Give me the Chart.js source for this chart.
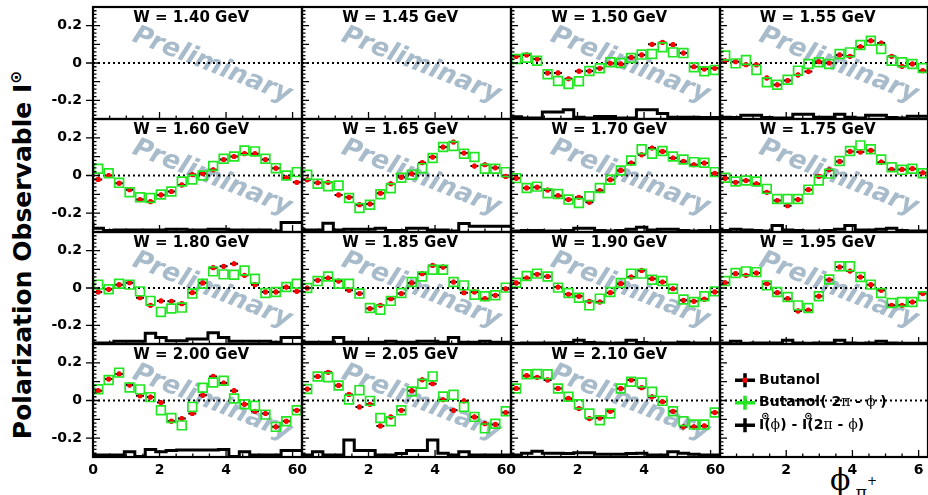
<!DOCTYPE html>
<html>
<head>
<meta charset="utf-8">
<script src="https://cdn.jsdelivr.net/npm/chart.js@4.4.1/dist/chart.umd.min.js"></script>
<style>
  body { margin: 0; background: #fff; overflow: hidden; }
  #wrap { position: relative; width: 928px; height: 495px; overflow: hidden; }
  #wrap canvas { position: absolute; }
  #ytitle {
    position: absolute; left: 22px; top: 255px; white-space: nowrap;
    transform: translate(-50%, -50%) rotate(-90deg);
    font: bold 25px "DejaVu Sans", sans-serif; color: #000;
  }
  #ytitle sup { font-size: 0.62em; }
  #xtitle {
    position: absolute; left: 830px; top: 462px; white-space: nowrap;
    font: 30px "DejaVu Serif", serif; color: #000;
  }
  #xtitle .sub { font-size: 17px; position: relative; top: 8px; }
  #xtitle .sub sup { font-size: 12px; position: relative; top: -6px; }
</style>
</head>
<body>
<div id="wrap">
  <div id="ytitle">Polarization Observable I<sup>⊙</sup></div>
  <div id="xtitle">ϕ<span class="sub"> π<sup>+</sup></span></div>
</div>
<script>
// phi bin centres and edges (rad)
const phi = [0.157, 0.471, 0.785, 1.100, 1.414, 1.728, 2.042, 2.356, 2.670, 2.985,
             3.299, 3.613, 3.927, 4.241, 4.555, 4.869, 5.184, 5.498, 5.812, 6.126];
const binEdges = [0, 0.314, 0.628, 0.942, 1.257, 1.571, 1.885, 2.199, 2.513, 2.827, 3.142,
                  3.456, 3.770, 4.084, 4.398, 4.712, 5.027, 5.341, 5.655, 5.969, 6.283];
const xTicks = [0, 2, 4, 6];
const xTickLabels = ['0', '2', '4', '6'];
const yTicks = [0.2, 0, -0.2];
const yTickLabels = ['0.2', '0', '-0.2'];
const wLabels = ['1.40', '1.45', '1.50', '1.55', '1.60', '1.65', '1.70', '1.75',
                 '1.80', '1.85', '1.90', '1.95', '2.00', '2.05', '2.10'];
const legendLabels = ['Butanol', 'Butanol( 2π - ϕ )', 'I⊙(ϕ) - I⊙(2π - ϕ)'];

// Butanol (red) / Butanol(2pi - phi) (green) / difference histogram
const r150 = [0.036, 0.043, 0.021, -0.053, -0.053, -0.085, -0.044, -0.043, -0.028, -0.002, -0.005, 0.030, 0.043, 0.100, 0.110, 0.098, 0.053, -0.020, -0.032, -0.028];
const g150 = [0.021, 0.028, 0.012, -0.060, -0.096, -0.112, -0.098, -0.043, -0.028, 0.004, 0.000, 0.027, 0.045, 0.048, 0.084, 0.057, 0.053, -0.023, -0.044, -0.037];
const h150 = [0.012, 0.012, 0.005, 0.005, 0.037, 0.037, 0.050, 0.010, 0.005, 0.014, 0.014, 0.005, 0.005, 0.050, 0.050, 0.030, 0.010, 0.010, 0.010, 0.008];

const r155 = [0.012, 0.007, -0.009, -0.010, -0.080, -0.117, -0.094, -0.064, -0.046, 0.007, 0.000, 0.043, 0.036, 0.087, 0.119, 0.107, 0.036, -0.018, -0.005, -0.041];
const g155 = [0.040, -0.002, 0.016, -0.037, -0.103, -0.117, -0.090, -0.041, -0.005, 0.004, -0.005, 0.048, 0.057, 0.096, 0.119, 0.075, 0.012, 0.004, -0.005, -0.027];
const h155 = [0.010, 0.010, 0.008, 0.020, 0.020, 0.008, 0.005, 0.005, 0.025, 0.025, 0.010, 0.010, 0.025, 0.010, 0.005, 0.020, 0.020, 0.008, 0.005, 0.015];

const r160 = [-0.021, 0.000, -0.041, -0.075, -0.128, -0.139, -0.103, -0.085, -0.050, 0.005, 0.010, 0.030, 0.085, 0.101, 0.116, 0.116, 0.085, 0.039, -0.012, -0.036];
const g160 = [0.036, 0.012, -0.039, -0.089, -0.116, -0.119, -0.101, -0.085, -0.032, -0.021, 0.000, 0.050, 0.089, 0.101, 0.133, 0.128, 0.089, 0.039, 0.000, 0.018];
const h160 = [0.050, 0.020, 0.008, 0.010, 0.010, 0.010, 0.010, 0.010, 0.015, 0.015, 0.010, 0.010, 0.015, 0.015, 0.010, 0.010, 0.010, 0.010, 0.005, 0.050];

const r165 = [-0.023, -0.039, -0.036, -0.103, -0.116, -0.155, -0.151, -0.094, -0.044, -0.009, 0.009, 0.068, 0.098, 0.151, 0.178, 0.119, 0.050, 0.057, 0.041, -0.005];
const g165 = [0.004, -0.044, -0.057, -0.053, -0.119, -0.173, -0.155, -0.100, -0.068, -0.012, 0.004, 0.039, 0.093, 0.151, 0.157, 0.116, 0.098, 0.036, 0.036, 0.018];
const h165 = [0.030, 0.010, 0.010, 0.046, 0.010, 0.015, 0.015, 0.015, 0.020, 0.008, 0.008, 0.020, 0.020, 0.010, 0.010, 0.005, 0.045, 0.030, 0.030, 0.030];

const r170 = [-0.014, -0.066, -0.062, -0.077, -0.107, -0.128, -0.116, -0.142, -0.080, -0.023, 0.027, 0.066, 0.110, 0.146, 0.128, 0.093, 0.075, 0.057, 0.066, 0.012];
const g170 = [-0.014, -0.066, -0.059, -0.094, -0.098, -0.128, -0.146, -0.110, -0.066, -0.023, 0.027, 0.080, 0.139, 0.116, 0.130, 0.101, 0.085, 0.071, 0.068, 0.018];
const h170 = [0.008, 0.005, 0.008, 0.008, 0.005, 0.005, 0.008, 0.020, 0.020, 0.008, 0.005, 0.008, 0.015, 0.025, 0.010, 0.015, 0.015, 0.008, 0.005, 0.008];

const r175 = [-0.014, -0.036, -0.027, -0.044, -0.089, -0.133, -0.160, -0.128, -0.075, -0.005, 0.030, 0.075, 0.128, 0.125, 0.133, 0.071, 0.032, 0.032, 0.036, 0.014];
const g175 = [-0.012, -0.032, -0.027, -0.032, -0.071, -0.125, -0.125, -0.125, -0.075, -0.027, 0.010, 0.077, 0.130, 0.160, 0.139, 0.085, 0.044, 0.030, 0.036, 0.012];
const h175 = [0.005, 0.008, 0.015, 0.010, 0.008, 0.005, 0.035, 0.010, 0.008, 0.005, 0.005, 0.008, 0.015, 0.035, 0.010, 0.010, 0.015, 0.020, 0.008, 0.005];

const r180 = [-0.021, -0.007, 0.018, 0.028, -0.052, -0.093, -0.069, -0.071, -0.084, -0.025, 0.027, 0.109, 0.116, 0.130, 0.068, 0.018, -0.021, -0.021, 0.005, -0.018];
const g180 = [0.018, -0.007, 0.023, 0.018, -0.018, -0.069, -0.128, -0.110, -0.105, -0.030, 0.023, 0.089, 0.073, 0.071, 0.094, 0.050, -0.027, -0.021, 0.005, 0.023];
const h180 = [0.027, 0.005, 0.005, 0.015, 0.015, 0.015, 0.057, 0.035, 0.018, 0.018, 0.027, 0.027, 0.060, 0.035, 0.015, 0.015, 0.015, 0.015, 0.010, 0.035];

const r185 = [0.000, 0.041, 0.053, 0.037, -0.012, -0.030, -0.110, -0.093, -0.057, -0.030, 0.027, 0.077, 0.121, 0.112, 0.032, -0.025, -0.021, -0.057, -0.039, -0.005];
const g185 = [0.000, 0.037, 0.062, 0.023, 0.023, -0.030, -0.107, -0.116, -0.069, -0.027, 0.032, 0.062, 0.098, 0.098, 0.032, 0.014, -0.036, -0.044, -0.039, 0.002];
const h185 = [0.015, 0.010, 0.010, 0.010, 0.035, 0.010, 0.010, 0.010, 0.010, 0.015, 0.010, 0.010, 0.015, 0.015, 0.010, 0.035, 0.010, 0.010, 0.015, 0.010];

const r190 = [0.027, 0.053, 0.073, 0.062, 0.005, -0.034, -0.044, -0.071, -0.075, -0.025, 0.023, 0.059, 0.094, 0.050, 0.032, -0.004, -0.066, -0.071, -0.060, -0.021];
const g190 = [0.028, 0.064, 0.077, 0.062, 0.002, -0.027, -0.052, -0.093, -0.057, -0.021, 0.027, 0.077, 0.077, 0.044, 0.037, -0.004, -0.062, -0.075, -0.044, -0.018];
const h190 = [0.005, 0.004, 0.005, 0.005, 0.005, 0.005, 0.008, 0.020, 0.008, 0.005, 0.004, 0.005, 0.020, 0.008, 0.005, 0.005, 0.005, 0.010, 0.005, 0.005];

const r195 = [0.028, 0.077, 0.068, 0.080, 0.023, -0.025, -0.057, -0.123, -0.119, -0.044, 0.044, 0.112, 0.091, 0.059, 0.018, -0.012, -0.093, -0.093, -0.075, -0.030];
const g195 = [0.037, 0.080, 0.089, 0.085, 0.014, -0.021, -0.048, -0.093, -0.107, -0.044, 0.046, 0.116, 0.117, 0.059, 0.018, -0.027, -0.080, -0.075, -0.075, -0.044];
const h195 = [0.004, 0.005, 0.015, 0.004, 0.005, 0.005, 0.005, 0.020, 0.005, 0.004, 0.005, 0.005, 0.020, 0.005, 0.004, 0.005, 0.015, 0.005, 0.004, 0.004];

const r200 = [0.052, 0.114, 0.141, 0.082, 0.025, 0.018, -0.011, -0.110, -0.096, -0.069, 0.028, 0.128, 0.093, 0.052, -0.020, -0.057, -0.069, -0.140, -0.110, -0.052];
const g200 = [0.060, 0.109, 0.148, 0.069, 0.059, 0.018, -0.052, -0.093, -0.132, -0.034, 0.068, 0.096, 0.105, 0.011, -0.020, -0.028, -0.075, -0.140, -0.110, -0.052];
const h200 = [0.010, 0.010, 0.010, 0.010, 0.028, 0.003, 0.040, 0.028, 0.035, 0.037, 0.037, 0.037, 0.037, 0.040, 0.003, 0.028, 0.010, 0.010, 0.010, 0.035];

const r205 = [0.061, 0.128, 0.150, 0.080, 0.032, -0.034, -0.020, -0.135, -0.087, -0.052, 0.052, 0.110, 0.089, 0.004, -0.052, -0.002, -0.087, -0.123, -0.127, -0.064];
const g205 = [0.061, 0.127, 0.123, 0.080, 0.005, 0.055, -0.002, -0.093, -0.110, -0.052, 0.048, 0.089, 0.128, 0.021, 0.030, -0.034, -0.087, -0.148, -0.123, -0.057];
const h205 = [0.010, 0.010, 0.028, 0.010, 0.010, 0.090, 0.035, 0.035, 0.010, 0.010, 0.018, 0.035, 0.035, 0.090, 0.020, 0.010, 0.028, 0.010, 0.010, 0.010];

const r210 = [0.064, 0.132, 0.123, 0.109, 0.064, 0.011, -0.043, -0.096, -0.093, -0.057, 0.064, 0.109, 0.068, 0.020, -0.007, -0.057, -0.140, -0.140, -0.135, -0.064];
const g210 = [0.064, 0.139, 0.141, 0.139, 0.064, 0.020, -0.020, -0.069, -0.105, -0.069, 0.064, 0.100, 0.096, 0.046, -0.002, -0.057, -0.110, -0.128, -0.128, -0.064];
const h210 = [0.005, 0.010, 0.020, 0.030, 0.020, 0.020, 0.018, 0.022, 0.022, 0.015, 0.015, 0.015, 0.018, 0.020, 0.010, 0.010, 0.028, 0.020, 0.015, 0.010];

const butanol = [null, null, r150, r155, r160, r165, r170, r175, r180, r185, r190, r195, r200, r205, r210];
const mirrored = [null, null, g150, g155, g160, g165, g170, g175, g180, g185, g190, g195, g200, g205, g210];
const diffHist = [null, null, h150, h155, h160, h165, h170, h175, h180, h185, h190, h195, h200, h205, h210];

const Y_MIN = -0.3, Y_MAX = 0.3, X_MAX = 6.283;
const X_ERR = 0.12, Y_ERR = 0.012;
const RED = '#ff0000', GREEN = '#22e622';

Chart.defaults.font.family = '"DejaVu Sans", sans-serif';

const colX = [93, 302, 511, 720, 928];
const rowY = [7, 119, 232, 344, 457];
const M = 10;

const panelDecor = {
    id: 'panelDecor',
    beforeDatasetsDraw(chart, args, opts) {
        const { ctx, chartArea: a } = chart;
        const w = a.right - a.left, h = a.bottom - a.top;
        if (opts.watermark) {
            ctx.save();
            ctx.translate(a.left + 0.57 * w, a.top + 0.52 * h);
            ctx.rotate(21.5 * Math.PI / 180);
            ctx.font = 'italic bold 26px "DejaVu Sans"';
            ctx.fillStyle = '#a8bbcb';
            ctx.textAlign = 'center';
            ctx.textBaseline = 'middle';
            ctx.fillText('Preliminary', 0, 0);
            ctx.restore();
        }
        // dotted zero line
        const y0 = chart.scales.y.getPixelForValue(0);
        ctx.save();
        ctx.beginPath();
        ctx.setLineDash([2, 3]);
        ctx.lineWidth = 2;
        ctx.strokeStyle = '#000';
        ctx.moveTo(a.left, y0);
        ctx.lineTo(a.right, y0);
        ctx.stroke();
        ctx.restore();
    },
    beforeDatasetDraw(chart, args) {
        const ds = chart.data.datasets[args.index];
        if (!ds.errorBars) return;
        const { ctx, scales: { x, y } } = chart;
        ctx.save();
        ctx.strokeStyle = '#000';
        ctx.lineWidth = 2;
        ctx.beginPath();
        ds.data.forEach(p => {
            const px = x.getPixelForValue(p.x), py = y.getPixelForValue(p.y);
            ctx.moveTo(x.getPixelForValue(p.x - X_ERR), py);
            ctx.lineTo(x.getPixelForValue(p.x + X_ERR), py);
            ctx.moveTo(px, y.getPixelForValue(p.y - Y_ERR));
            ctx.lineTo(px, y.getPixelForValue(p.y + Y_ERR));
        });
        ctx.stroke();
        ctx.restore();
    },
    afterDraw(chart, args, opts) {
        const { ctx, chartArea: a, scales: { x, y } } = chart;
        ctx.save();
        ctx.strokeStyle = '#000';
        // ticks
        ctx.lineWidth = 1.3;
        ctx.beginPath();
        for (let k = -15; k <= 15; k++) {
            const py = y.getPixelForValue(k * 0.02);
            const len = k % 5 === 0 ? 7 : 3.5;
            ctx.moveTo(a.left, py);
            ctx.lineTo(a.left + len, py);
        }
        for (let k = 0; k <= 12; k++) {
            const px = x.getPixelForValue(k * 0.5);
            const len = k % 4 === 0 ? 7 : 3.5;
            ctx.moveTo(px, a.bottom);
            ctx.lineTo(px, a.bottom - len);
        }
        if (opts.outerTicks) {
            yTicks.forEach(v => {
                const py = y.getPixelForValue(v);
                ctx.moveTo(a.left, py);
                ctx.lineTo(a.left - 7, py);
            });
        }
        ctx.stroke();
        // frame
        ctx.lineWidth = 2.2;
        ctx.strokeRect(a.left, a.top, a.right - a.left, a.bottom - a.top);
        ctx.fillStyle = '#000';
        if (opts.title) {
            ctx.font = 'bold 15px "DejaVu Sans"';
            ctx.textAlign = 'center';
            ctx.textBaseline = 'alphabetic';
            ctx.fillText(opts.title, a.left + 0.47 * (a.right - a.left), a.top + 15);
        }
        if (opts.legend) drawLegend(chart);
        ctx.restore();
    }
};

function drawLegend(chart) {
    const { ctx, chartArea: a } = chart;
    const h = a.bottom - a.top;
    const rows = [0.32, 0.52, 0.72];
    const colors = ['#000', GREEN, '#000'];
    const mx = a.left + 25;
    const bold = 'bold 14px "DejaVu Sans"';
    ctx.font = bold;
    ctx.textAlign = 'left';
    ctx.textBaseline = 'middle';
    legendLabels.forEach((label, i) => {
        const my = a.top + rows[i] * h;
        ctx.strokeStyle = colors[i];
        ctx.lineWidth = 3.5;
        ctx.beginPath();
        ctx.moveTo(mx - 10, my); ctx.lineTo(mx + 10, my);
        ctx.moveTo(mx, my - 7); ctx.lineTo(mx, my + 7);
        ctx.stroke();
        if (i === 0) {
            ctx.fillStyle = RED;
            ctx.beginPath(); ctx.arc(mx, my, 2.6, 0, Math.PI * 2); ctx.fill();
        }
        ctx.fillStyle = '#000';
        let tx = mx + 14;
        // greek letters in a plain serif face, superscript circle-dot above
        for (const ch of label) {
            if (ch === '⊙') {
                ctx.font = 'bold 10px "DejaVu Sans"';
                ctx.fillText(ch, tx - 3, my - 9);
                continue;
            }
            ctx.font = (ch === 'π' || ch === 'ϕ') ? '14px "DejaVu Serif"' : bold;
            ctx.fillText(ch, tx, my);
            tx += ctx.measureText(ch).width;
        }
        ctx.font = bold;
    });
}

const wrap = document.getElementById('wrap');

for (let idx = 0; idx < 16; idx++) {
    const r = Math.floor(idx / 4), c = idx % 4;
    const isLeft = c === 0, isBottom = r === 3, isLegend = idx === 15;
    const axisW = 83, axisH = 28;
    const left = isLeft ? colX[0] - M - axisW : colX[c] - M;
    const top = rowY[r] - M;
    const width = colX[c + 1] + M - left;
    const height = rowY[r + 1] + M + (isBottom ? axisH : 0) - top;

    const canvas = document.createElement('canvas');
    canvas.width = width; canvas.height = height;
    canvas.style.left = left + 'px'; canvas.style.top = top + 'px';
    canvas.style.width = width + 'px'; canvas.style.height = height + 'px';
    wrap.appendChild(canvas);

    const datasets = [];
    if (!isLegend && butanol[idx]) {
        datasets.push({
            type: 'line',
            data: binEdges.map((e, k) => ({ x: e, y: Y_MIN + diffHist[idx][Math.min(k, 19)] })),
            stepped: 'after',
            borderColor: '#000',
            borderWidth: 3,
            pointRadius: 0,
            fill: false,
            order: 3
        });
        datasets.push({
            data: phi.map((p, k) => ({ x: p, y: butanol[idx][k] })),
            errorBars: true,
            pointRadius: 2.6,
            backgroundColor: RED,
            borderWidth: 0,
            order: 2
        });
        datasets.push({
            data: phi.map((p, k) => ({ x: p, y: mirrored[idx][k] })),
            pointStyle: 'rect',
            pointRadius: 6.2,
            borderColor: GREEN,
            backgroundColor: 'rgba(0,0,0,0)',
            borderWidth: 1.7,
            order: 1
        });
    }

    new Chart(canvas, {
        type: 'scatter',
        data: { datasets },
        options: {
            responsive: false,
            animation: false,
            events: [],
            layout: { padding: { left: M, right: M, top: M, bottom: M } },
            plugins: {
                legend: { display: false },
                tooltip: { enabled: false },
                panelDecor: {
                    title: isLegend ? null : 'W = ' + wLabels[idx] + ' GeV',
                    watermark: !isLegend,
                    legend: isLegend,
                    outerTicks: isLeft
                }
            },
            scales: {
                x: {
                    type: 'linear', min: 0, max: X_MAX,
                    display: isBottom,
                    afterBuildTicks: s => { s.ticks = xTicks.map(v => ({ value: v })); },
                    afterFit: s => {
                        s.height = isBottom ? axisH : 0;
                        s.paddingLeft = 0; s.paddingRight = 0;
                    },
                    ticks: {
                        autoSkip: false, maxRotation: 0, padding: 5, color: '#000',
                        font: { size: 14, weight: 'bold' },
                        callback: v => xTickLabels[xTicks.indexOf(v)]
                    },
                    grid: { display: false, drawTicks: false },
                    border: { display: false }
                },
                y: {
                    type: 'linear', min: Y_MIN, max: Y_MAX,
                    display: isLeft,
                    afterBuildTicks: s => { s.ticks = yTicks.map(v => ({ value: v })); },
                    afterFit: s => {
                        s.width = isLeft ? axisW : 0;
                        s.paddingTop = 0; s.paddingBottom = 0;
                    },
                    ticks: {
                        padding: 11, color: '#000',
                        font: { size: 14, weight: 'bold' },
                        callback: v => yTickLabels[yTicks.indexOf(v)]
                    },
                    grid: { display: false, drawTicks: false },
                    border: { display: false }
                }
            }
        },
        plugins: [panelDecor]
    });
}
</script>
</body>
</html>
